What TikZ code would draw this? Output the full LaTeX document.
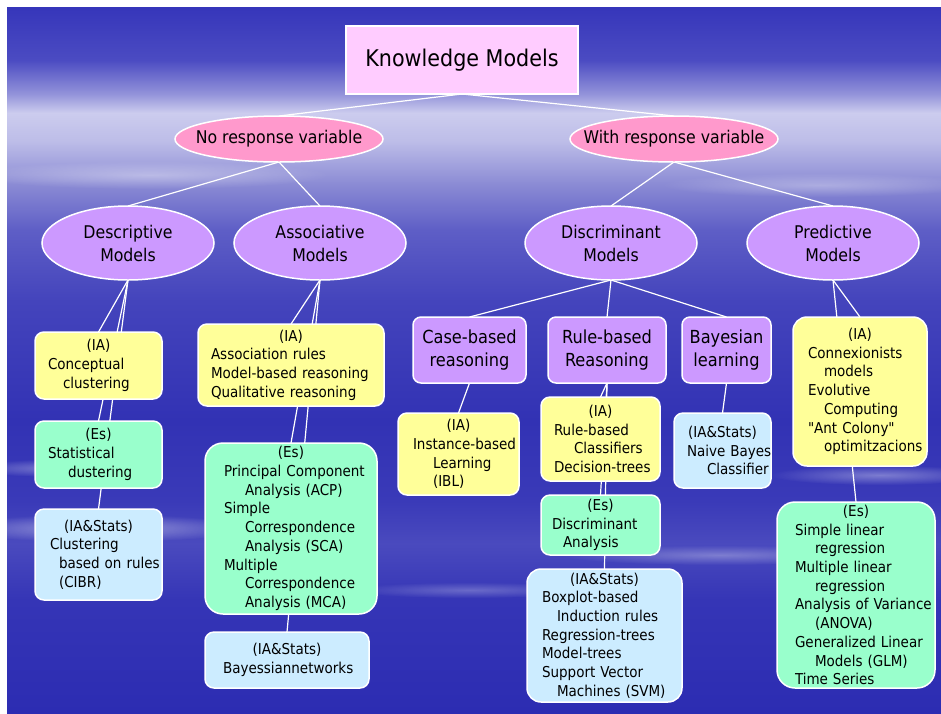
\documentclass[tikz,border=0pt]{standalone}
\usepackage{fontspec}
\setmainfont{DejaVu Sans Condensed}
\usetikzlibrary{positioning,shapes.geometric,fadings}

\definecolor{titlepink}{HTML}{FFCCFF}
\definecolor{resppink}{HTML}{FF99CC}
\definecolor{lilac}{HTML}{CC99FF}
\definecolor{iayellow}{HTML}{FFFF99}
\definecolor{esgreen}{HTML}{99FFCC}
\definecolor{isblue}{HTML}{CCECFF}

\definecolor{skyA}{HTML}{3636BA}
\definecolor{skyB}{HTML}{4B4BC2}
\definecolor{skyC}{HTML}{9494DA}
\definecolor{skyD}{HTML}{CCCCEE}
\definecolor{skyE}{HTML}{BDBDE8}
\definecolor{skyF}{HTML}{8A8AD4}
\definecolor{skyG}{HTML}{5E5EC6}
\definecolor{skyH}{HTML}{4444BC}
\definecolor{skyI}{HTML}{3232B4}
\definecolor{skyJ}{HTML}{3A3AB8}
\definecolor{skyK}{HTML}{4A4ABE}
\definecolor{skyL}{HTML}{3535B6}
\definecolor{skyM}{HTML}{2C2CB2}

\pgfdeclareverticalshading{skyfade}{100bp}{%
  color(0bp)=(skyM); color(25bp)=(skyM); color(33bp)=(skyL); color(37bp)=(skyK);
  color(40bp)=(skyJ); color(45.7bp)=(skyI); color(54.2bp)=(skyH); color(59.2bp)=(skyG);
  color(62.4bp)=(skyF); color(65.5bp)=(skyE); color(67.5bp)=(skyD); color(68.8bp)=(skyC);
  color(71.25bp)=(skyB); color(75bp)=(skyA); color(100bp)=(skyA)}

\tikzfading[name=wispfade, inner color=transparent!0, outer color=transparent!100]

\pgfdeclarelayer{sky}
\pgfdeclarelayer{links}
\pgfsetlayers{sky,links,main}

\hyphenpenalty=10000
\exhyphenpenalty=10000
\newcommand{\hd}[1]{\makebox[\linewidth]{#1}}
\newcommand{\ind}[1][18pt]{\hspace*{#1}}

\begin{document}
\begin{tikzpicture}[x=1pt, y=-1pt, font=\fontsize{15}{18.7}\selectfont,
  box/.style={draw=white, line width=1.5pt, outer sep=0pt, inner sep=0pt, rounded corners=9pt, align=left},
  ia/.style={box, fill=iayellow},
  es/.style={box, fill=esgreen},
  is/.style={box, fill=isblue},
  method/.style={box, fill=lilac, minimum height=66pt, align=center, rounded corners=8pt, font=\fontsize{18}{22.7}\selectfont},
  resp/.style={ellipse, draw=white, line width=1.5pt, outer sep=0pt, fill=resppink, minimum width=208pt, minimum height=46pt,
    label={[font=\fontsize{17.5}{21}\selectfont]center:#1}},
  model/.style={ellipse, draw=white, line width=1.5pt, outer sep=0pt, fill=lilac, minimum width=172pt, minimum height=74pt,
    label={[align=center, font=\fontsize{17.5}{23}\selectfont]center:#1}},
  wisp/.style={white, path fading=wispfade, opacity=#1},
  link/.style={draw=white, line width=1.2pt}]

\useasboundingbox (0,0) rectangle (941,713);

% Background
\begin{pgfonlayer}{sky}
\fill[white] (0,0) rectangle (941,713);
\shade[shading=skyfade] (7,7) rectangle (941,713);
\fill[wisp=.45] (100,528) ellipse [x radius=150pt, y radius=14pt];
\fill[wisp=.35] (60,468) ellipse [x radius=90pt, y radius=9pt];
\fill[wisp=.35] (880,475) ellipse [x radius=110pt, y radius=10pt];
\fill[wisp=.30] (720,555) ellipse [x radius=160pt, y radius=10pt];
\fill[wisp=.25] (470,590) ellipse [x radius=120pt, y radius=8pt];
\fill[wisp=.35] (150,175) ellipse [x radius=180pt, y radius=14pt];
\fill[wisp=.30] (820,185) ellipse [x radius=160pt, y radius=12pt];
\end{pgfonlayer}

% Nodes
\node[draw=white, line width=1.5pt, outer sep=0pt, fill=titlepink, minimum width=232pt, minimum height=68pt,
  font=\fontsize{23}{27}\selectfont] (km) at (462,60) {Knowledge Models};

\node[resp={No response variable}] (noresp) at (279,139) {};
\node[resp={With response variable}] (withresp) at (674,139) {};

\node[model={Descriptive\\Models}] (desc) at (128,243) {};
\node[model={Associative\\Models}] (assoc) at (320,243) {};
\node[model={Discriminant\\Models}] (discr) at (611,243) {};
\node[model={Predictive\\Models}] (pred) at (833,243) {};

\node[method, minimum width=113pt] (casebr) at (469.5,350) {Case-based\\reasoning};
\node[method, minimum width=118pt] (rulebr) at (607,350) {Rule-based\\Reasoning};
\node[method, minimum width=89pt] (bayes) at (726.5,350) {Bayesian\\learning};

\node[ia, minimum width=127pt, minimum height=67pt, text width=101pt] (descia) at (98.5,365.5)
  {\hd{(IA)}\\Conceptual\\\ind[15pt]clustering};
\node[es, minimum width=127pt, minimum height=67pt, text width=101pt, below=22pt of descia] (desces)
  {\hd{(Es)}\\Statistical\\\ind[20pt]dustering};
\node[is, minimum width=127pt, minimum height=91pt, text width=97pt, below=21pt of desces] (descis)
  {\hd{(IA\&Stats)}\\Clustering\\\ind[9pt]based~on~rules\\\ind[9pt](CIBR)};

\node[ia, minimum width=186pt, minimum height=82pt, text width=160pt] (associa) at (291,365)
  {\hd{(IA)}\\Association~rules\\Model-based~reasoning\\Qualitative~reasoning};
\node[es, minimum width=172pt, minimum height=171pt, text width=134pt, rounded corners=18pt, below=37pt of associa] (assoces)
  {\hd{(Es)}\\Principal~Component\\\ind[21pt]Analysis~(ACP)\\Simple\\\ind[21pt]Correspondence\\\ind[21pt]Analysis~(SCA)\\Multiple\\\ind[21pt]Correspondence\\\ind[21pt]Analysis~(MCA)};
\node[is, minimum width=164pt, minimum height=56pt, text width=128pt, below=18pt of assoces, xshift=-4pt] (associs)
  {\hd{(IA\&Stats)}\\Bayessiannetworks};

\node[ia, minimum width=121pt, minimum height=82pt, text width=91pt, below=30pt of casebr, xshift=-11pt] (caseia)
  {\hd{(IA)}\\Instance-based\\\ind[20pt]Learning\\\ind[20pt](IBL)};

\node[ia, minimum width=119pt, minimum height=84pt, text width=93pt, below=14pt of rulebr, xshift=-6.5pt] (ruleia)
  {\hd{(IA)}\\Rule-based\\\ind[20pt]Classifiers\\Decision-trees};
\node[es, minimum width=119pt, minimum height=60pt, text width=97pt, below=14pt of ruleia] (rulees)
  {\hd{(Es)}\\Discriminant\\\ind[11pt]Analysis};
\node[is, minimum width=155pt, minimum height=133pt, text width=125pt, rounded corners=14pt, below=14pt of rulees, xshift=4pt] (ruleis)
  {\hd{(IA\&Stats)}\\Boxplot-based\\\ind[15pt]Induction~rules\\Regression-trees\\Model-trees\\Support~Vector\\\ind[15pt]Machines~(SVM)};

\node[is, minimum width=97pt, minimum height=75pt, text width=71pt, below=30pt of bayes, xshift=-4pt] (bayesis)
  {\hd{(IA\&Stats)}\\Naive~Bayes\\\ind[20pt]Classifier};

\node[ia, minimum width=134pt, minimum height=149pt, text width=104pt, rounded corners=14pt] (predia) at (860,391.5)
  {\hd{(IA)}\\Connexionists\\\ind[16pt]models\\Evolutive\\\ind[16pt]Computing\\\textquotedbl Ant~Colony\textquotedbl\\\ind[16pt]optimitzacions};
\node[es, minimum width=158pt, minimum height=186pt, text width=122pt, rounded corners=18pt, below=36pt of predia, xshift=-4pt] (predes)
  {\hd{(Es)}\\Simple~linear\\\ind[20pt]regression\\Multiple~linear\\\ind[20pt]regression\\Analysis~of~Variance\\\ind[20pt](ANOVA)\\Generalized~Linear\\\ind[20pt]Models~(GLM)\\Time~Series};

% Connectors
\begin{pgfonlayer}{links}
\draw[link] (km.south) -- (noresp.north);
\draw[link] (km.south) -- (withresp.north);
\draw[link] (noresp.south) -- (desc.north);
\draw[link] (noresp.south) -- (assoc.north);
\draw[link] (withresp.south) -- (discr.north);
\draw[link] (withresp.south) -- (pred.north);
\draw[link] (desc.south) -- (descia.north);
\draw[link] (desc.south) -- (desces.north);
\draw[link] (desc.south) -- (descis.north);
\draw[link] (assoc.south) -- (associa.north);
\draw[link] (assoc.south) -- (assoces.north);
\draw[link] (assoc.south) -- (associs.north);
\draw[link] (discr.south) -- (casebr.north);
\draw[link] (discr.south) -- (rulebr.north);
\draw[link] (discr.south) -- (bayes.north);
\draw[link] (casebr.south) -- (caseia.north);
\draw[link] (rulebr.south) -- (ruleia.north);
\draw[link] (rulebr.south) -- (rulees.north);
\draw[link] (rulebr.south) -- (ruleis.north);
\draw[link] (bayes.south) -- (bayesis.north);
\draw[link] (pred.south) -- (predia.north);
\draw[link] (pred.south) -- (predes.north);
\end{pgfonlayer}

\end{tikzpicture}
\end{document}
